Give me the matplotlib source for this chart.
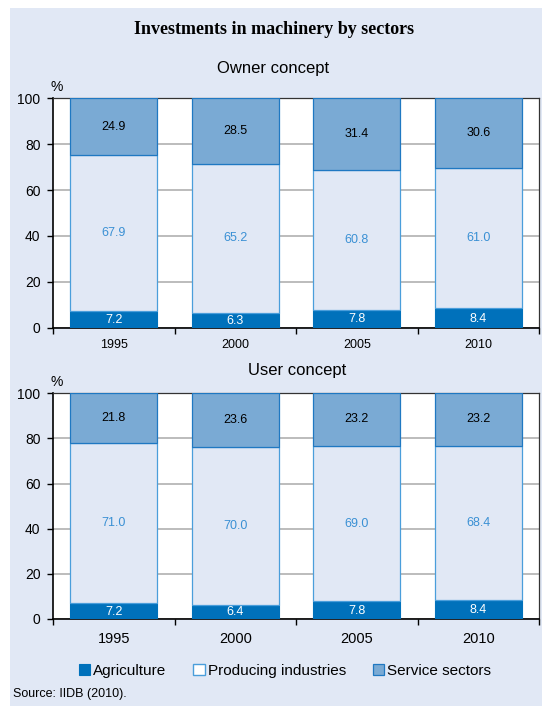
import matplotlib
matplotlib.use("Agg")
import matplotlib.pyplot as plt
from matplotlib.patches import Patch, Rectangle
import numpy as np

plt.rcParams['font.family'] = ['Liberation Sans', 'DejaVu Sans']

years = ["1995", "2000", "2005", "2010"]
series_names = ["Agriculture", "Producing industries", "Service sectors"]
owner_agri = [7.2, 6.3, 7.8, 8.4]
owner_prod = [67.9, 65.2, 60.8, 61.0]
owner_serv = [24.9, 28.5, 31.4, 30.6]
user_agri = [7.2, 6.4, 7.8, 8.4]
user_prod = [71.0, 70.0, 69.0, 68.4]
user_serv = [21.8, 23.6, 23.2, 23.2]
yticks = [0, 20, 40, 60, 80, 100]

BG = "#E1E8F5"
C_AGRI = "#0071BB"
C_PROD_FILL = "#E1E8F5"
C_PROD_EDGE = "#4A9EDB"
C_SERV = "#7AAAD4"
C_SERV_EDGE = "#1F78C2"
C_PROD_TEXT = "#3A90D4"

W, H = 542, 706
fig = plt.figure(figsize=(W / 100, H / 100), dpi=100)
fig.patch.set_facecolor("white")
fig.patches.append(Rectangle((10 / W, 0), 1 - 10 / W, 1 - 8 / H,
                             transform=fig.transFigure, facecolor=BG,
                             edgecolor="none", zorder=-10))


def fx(px):
    return px / W


def fy(py):
    return 1 - py / H


def draw(ax, agri, prod, serv, xlab_size, xlab_pad):
    x = np.arange(len(years))
    bw = 0.716
    agri = np.array(agri)
    prod = np.array(prod)
    serv = np.array(serv)
    ax.set_facecolor("white")
    ax.bar(x, agri, bw, color=C_AGRI, edgecolor=C_AGRI, linewidth=0.8, zorder=3)
    ax.bar(x, prod, bw, bottom=agri, color=C_PROD_FILL, edgecolor=C_PROD_EDGE,
           linewidth=0.9, zorder=3)
    ax.bar(x, serv, bw, bottom=agri + prod, color=C_SERV, edgecolor=C_SERV_EDGE,
           linewidth=0.9, zorder=3)
    for i in range(len(years)):
        ax.text(x[i], agri[i] / 2 - 0.3, f"{agri[i]:.1f}", ha="center", va="center",
                color="white", fontsize=9, zorder=5)
        ax.text(x[i], agri[i] + prod[i] / 2, f"{prod[i]:.1f}", ha="center", va="center",
                color=C_PROD_TEXT, fontsize=9, zorder=5)
        ax.text(x[i], agri[i] + prod[i] + serv[i] / 2, f"{serv[i]:.1f}", ha="center",
                va="center", color="black", fontsize=9, zorder=5)
    ax.set_xlim(-0.5, len(years) - 0.5)
    ax.set_ylim(0, 100)
    ax.set_yticks(yticks)
    ax.set_yticklabels([str(v) for v in yticks], fontsize=10)
    ax.yaxis.grid(True, color="#A9A9A9", linewidth=1.1, zorder=0)
    ax.set_axisbelow(True)
    ax.set_xticks(x)
    ax.set_xticklabels(years, fontsize=xlab_size)
    ax.set_xticks(np.arange(-0.5, len(years)), minor=True)
    ax.tick_params(axis="x", which="major", length=0, pad=xlab_pad)
    ax.tick_params(axis="x", which="minor", length=4, width=1, direction="out",
                   color="black")
    ax.tick_params(axis="y", length=4, width=1, direction="out", pad=5)
    for s in ["left", "bottom"]:
        ax.spines[s].set_color("black")
        ax.spines[s].set_linewidth(1.2)
    for s in ["top", "right"]:
        ax.spines[s].set_color("#333333")
        ax.spines[s].set_linewidth(0.9)
    ax.annotate("%", xy=(0, 1), xycoords="axes fraction", xytext=(3, 3),
                textcoords="offset points", ha="center", va="bottom", fontsize=10)


ax1 = fig.add_axes([fx(53), fy(327.7), fx(539) - fx(53), fy(98.3) - fy(327.7)])
draw(ax1, owner_agri, owner_prod, owner_serv, 9, 8)
ax2 = fig.add_axes([fx(53), fy(619), fx(539) - fx(53), fy(393.3) - fy(619)])
draw(ax2, user_agri, user_prod, user_serv, 10.5, 9.5)

fig.text(fx(274.5), fy(30), "Investments in machinery by sectors", ha="center",
         va="center", fontsize=13, fontweight="bold", family="Liberation Serif")
fig.text(fx(273), fy(69), "Owner concept", ha="center", va="center", fontsize=12)
fig.text(fx(297), fy(370), "User concept", ha="center", va="center", fontsize=12)

handles = [Patch(facecolor=C_AGRI, edgecolor=C_AGRI, linewidth=0.8),
           Patch(facecolor="white", edgecolor=C_PROD_EDGE, linewidth=1.0),
           Patch(facecolor=C_SERV, edgecolor=C_SERV_EDGE, linewidth=0.9)]
fig.legend(handles, series_names, loc="center", bbox_to_anchor=(fx(285), fy(671)),
           ncol=3, frameon=False, fontsize=11, handlelength=0.75, handleheight=0.75,
           handletextpad=0.2, columnspacing=1.75, borderaxespad=0)

fig.text(fx(13), fy(694), "Source: IIDB (2010).", ha="left", va="center", fontsize=9)

fig.savefig("out.png", dpi=100, facecolor=fig.get_facecolor())
